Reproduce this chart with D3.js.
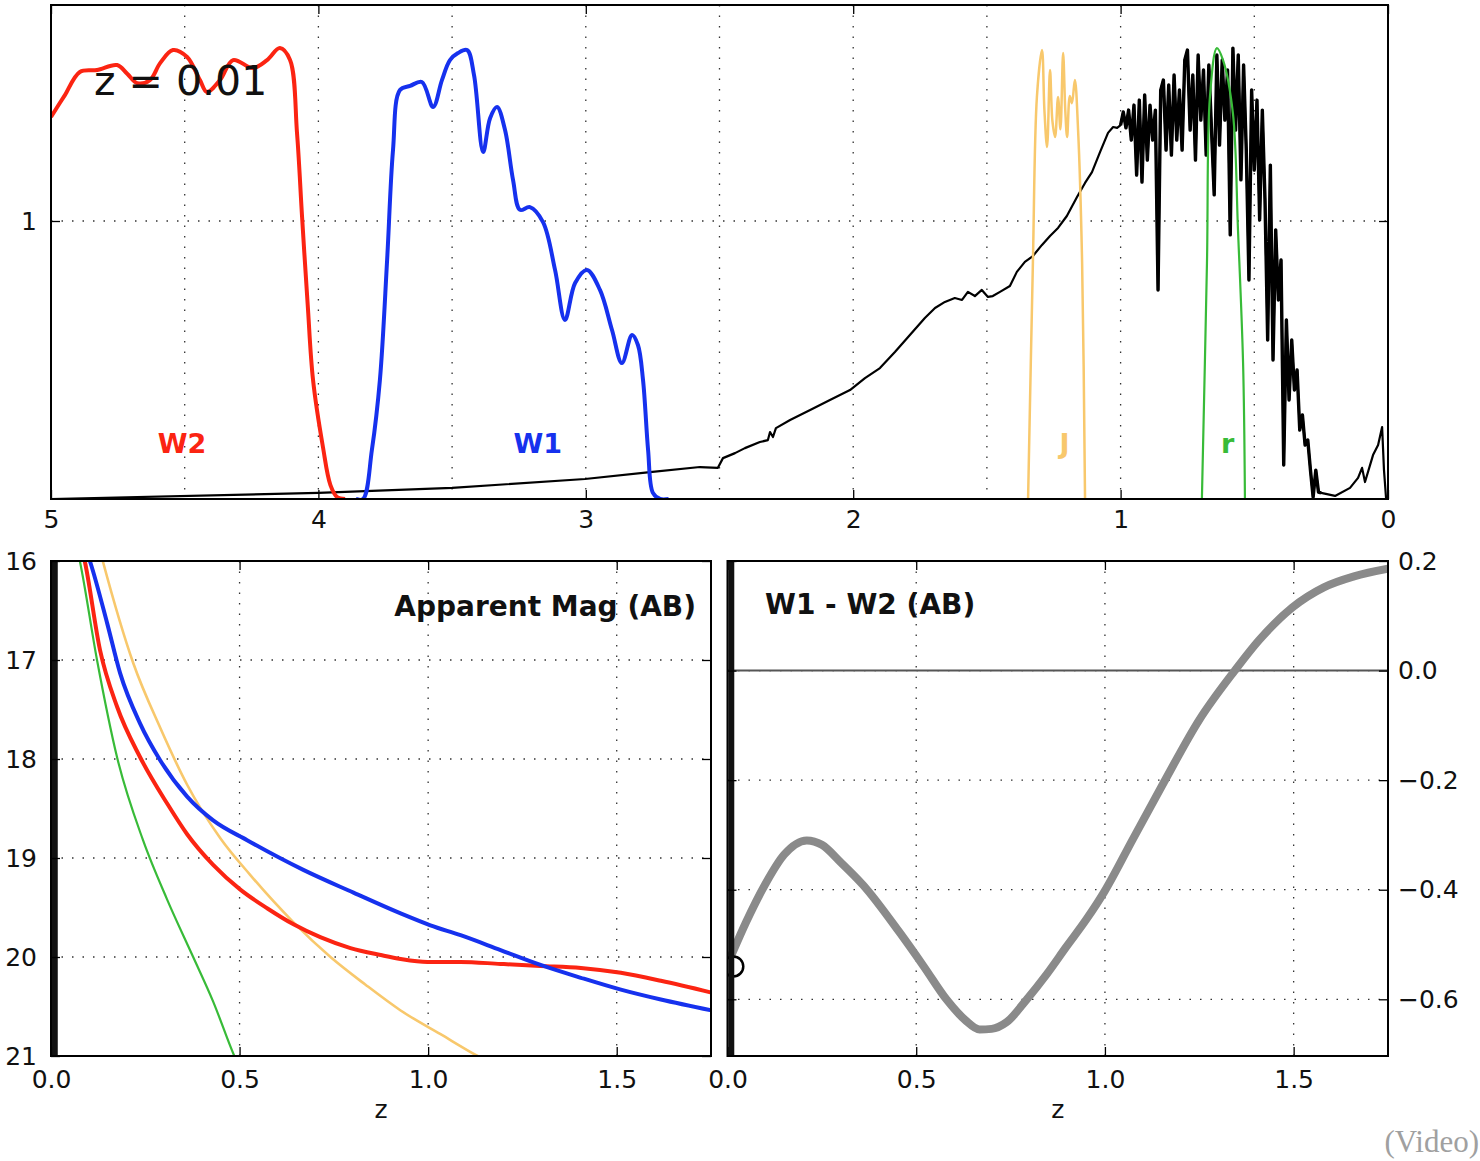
<!DOCTYPE html>
<html>
<head>
<meta charset="utf-8">
<script src="https://cdn.jsdelivr.net/npm/d3@7"></script>
<style>
body { margin: 0; background: #fff; }
svg { display: block; font-family: "DejaVu Sans", sans-serif; }
</style>
</head>
<body>
<script>
// ---- data ----
var topTicks = [5, 4, 3, 2, 1, 0]
var topGrid = [4.5, 4, 3.5, 3, 2.5, 2, 1.5, 1, 0.5]
var topYTicks = [1]
var zTicks = [0, 0.5, 1.0, 1.5]
var zGrid = [0.5, 1.0, 1.5]
var magTicks = [16, 17, 18, 19, 20, 21]
var magGrid = [17, 18, 19, 20]
var colTicks = [0.2, 0.0, -0.2, -0.4, -0.6]
var colGrid = [0.0, -0.2, -0.4, -0.6]
var currentZ = 0.01
var currentCol = -0.54

var w2Wave = [5.0, 4.97, 4.948, 4.892, 4.828, 4.753, 4.715, 4.678, 4.630, 4.592, 4.544, 4.491, 4.443, 4.417, 4.368, 4.319, 4.245, 4.192, 4.144, 4.106, 4.080, 4.061, 4.040, 4.020, 3.983, 3.955, 3.930, 3.90]
var w2Resp = [1.374, 1.42, 1.453, 1.536, 1.543, 1.561, 1.53, 1.496, 1.507, 1.568, 1.615, 1.590, 1.507, 1.464, 1.507, 1.579, 1.550, 1.579, 1.622, 1.579, 1.317, 1.014, 0.698, 0.428, 0.187, 0.05, 0.007, 0.0]

var w1Wave = [3.86, 3.833, 3.800, 3.770, 3.743, 3.721, 3.695, 3.657, 3.613, 3.571, 3.538, 3.508, 3.478, 3.444, 3.418, 3.384, 3.358, 3.332, 3.302, 3.272, 3.246, 3.209, 3.160, 3.115, 3.078, 3.040, 2.996, 2.947, 2.902, 2.865, 2.827, 2.805, 2.786, 2.767, 2.749, 2.722, 2.69]
var w1Resp = [0.0, 0.0, 0.176, 0.428, 0.860, 1.255, 1.471, 1.486, 1.500, 1.410, 1.507, 1.579, 1.604, 1.615, 1.525, 1.248, 1.370, 1.410, 1.327, 1.147, 1.040, 1.050, 0.996, 0.824, 0.644, 0.777, 0.824, 0.752, 0.608, 0.489, 0.590, 0.554, 0.428, 0.176, 0.022, 0.0, 0.0]

var jWave = [1.346, 1.328, 1.313, 1.294, 1.285, 1.275, 1.264, 1.255, 1.245, 1.234, 1.225, 1.215, 1.207, 1.200, 1.190, 1.182, 1.171, 1.159, 1.144, 1.133]
var jResp = [0.0, 0.849, 1.446, 1.615, 1.40, 1.266, 1.543, 1.36, 1.302, 1.446, 1.33, 1.604, 1.40, 1.302, 1.45, 1.424, 1.507, 1.327, 0.853, 0.0]

var rWave = [0.696, 0.677, 0.666, 0.640, 0.617, 0.580, 0.561, 0.542, 0.535]
var rResp = [0.0, 0.849, 1.446, 1.622, 1.579, 1.388, 0.968, 0.489, 0.0]

var specWave = [5.0, 4.0, 3.5, 3.003, 2.76, 2.573, 2.506, 2.487, 2.442, 2.405, 2.349, 2.319, 2.311, 2.30, 2.289, 2.236, 2.161, 2.087, 2.012, 1.956, 1.90, 1.844, 1.788, 1.732, 1.694, 1.657, 1.62, 1.593, 1.571, 1.545, 1.519, 1.496, 1.478, 1.451, 1.414, 1.388, 1.358, 1.328, 1.294, 1.264, 1.234, 1.201, 1.163, 1.133, 1.107, 1.077, 1.047, 1.028, 1.013,
  1.00, 0.99, 0.98, 0.97, 0.96, 0.95, 0.94, 0.93, 0.92, 0.91, 0.90, 0.89, 0.88, 0.87, 0.86, 0.85, 0.84, 0.83, 0.82, 0.81, 0.80, 0.79, 0.78, 0.77, 0.76, 0.75, 0.74, 0.73, 0.72, 0.71, 0.70, 0.69, 0.68, 0.67, 0.66, 0.65, 0.64, 0.63, 0.62, 0.61, 0.60, 0.59, 0.58, 0.57, 0.56, 0.55, 0.54, 0.53, 0.52, 0.51, 0.50, 0.49, 0.48, 0.47, 0.46, 0.45, 0.44, 0.43, 0.42, 0.41, 0.40, 0.39, 0.38, 0.37, 0.36, 0.35, 0.34, 0.33, 0.32, 0.31, 0.30, 0.29, 0.28, 0.27, 0.26, 0.25,
  0.198, 0.142, 0.112, 0.097, 0.086, 0.056, 0.037, 0.022, 0.015, 0.007]
var specFlux = [0, 0.022, 0.040, 0.072, 0.097, 0.115, 0.112, 0.147, 0.165, 0.183, 0.205, 0.212, 0.241, 0.223, 0.255, 0.284, 0.320, 0.356, 0.392, 0.435, 0.471, 0.529, 0.590, 0.651, 0.687, 0.709, 0.723, 0.716, 0.745, 0.730, 0.752, 0.727, 0.730, 0.745, 0.766, 0.817, 0.853, 0.874, 0.914, 0.946, 0.975, 1.018, 1.086, 1.137, 1.176, 1.248, 1.317, 1.338, 1.335,
  1.345, 1.392, 1.335, 1.399, 1.291, 1.417, 1.165, 1.435, 1.140, 1.453, 1.219, 1.417, 1.291, 1.399, 0.752, 1.471, 1.507, 1.255, 1.489, 1.237, 1.525, 1.291, 1.471, 1.255, 1.579, 1.615, 1.327, 1.525, 1.219, 1.597, 1.363, 1.543, 1.237, 1.561, 1.327, 1.094, 1.597, 1.273, 1.579, 1.363, 1.543, 0.950, 1.622, 1.327, 1.597, 1.148, 1.561, 1.255, 0.788, 1.471, 1.183, 1.435, 1.004, 1.399, 1.076, 0.572, 1.201, 0.500, 0.968, 0.716, 0.860, 0.122, 0.644, 0.356, 0.572, 0.392, 0.464, 0.248, 0.302, 0.194, 0.212, 0.104, 0.007, 0.104, 0.025, 0.022,
  0.011, 0.040, 0.076, 0.112, 0.061, 0.158, 0.194, 0.259, 0.104, 0]
// the dense, noisy part of the spectrum (drawn a bit heavier)
var noisyFrom = 1.00, noisyTo = 0.25

var magZ_w1 = [0.08, 0.104, 0.149, 0.183, 0.236, 0.289, 0.361, 0.430, 0.520, 0.669, 0.802, 0.927, 1.006, 1.086, 1.192, 1.298, 1.405, 1.511, 1.617, 1.752]
var mag_w1 = [15.75, 16.01, 16.63, 17.13, 17.64, 18.01, 18.38, 18.62, 18.82, 19.12, 19.35, 19.56, 19.68, 19.78, 19.93, 20.08, 20.21, 20.33, 20.43, 20.54]
var magZ_w2 = [0.07, 0.090, 0.130, 0.175, 0.236, 0.308, 0.361, 0.430, 0.502, 0.574, 0.643, 0.714, 0.794, 0.874, 0.927, 0.998, 1.086, 1.192, 1.298, 1.405, 1.511, 1.617, 1.752]
var mag_w2 = [15.7, 16.01, 16.90, 17.47, 17.98, 18.45, 18.76, 19.07, 19.32, 19.51, 19.67, 19.80, 19.91, 19.98, 20.02, 20.05, 20.05, 20.07, 20.09, 20.11, 20.16, 20.24, 20.36]
var magZ_j = [0.12, 0.138, 0.218, 0.289, 0.361, 0.449, 0.528, 0.643, 0.741, 0.834, 0.927, 1.033, 1.131, 1.16]
var mag_j = [15.75, 16.01, 17.03, 17.68, 18.26, 18.80, 19.17, 19.65, 20.00, 20.28, 20.54, 20.78, 21.0, 21.06]
var magZ_r = [0.065, 0.077, 0.122, 0.175, 0.244, 0.308, 0.377, 0.430, 0.486, 0.50]
var mag_r = [15.8, 16.01, 17.00, 17.98, 18.82, 19.42, 20.0, 20.45, 21.0, 21.12]

var colZ = [0.01, 0.05, 0.10, 0.15, 0.21, 0.25, 0.30, 0.36, 0.456, 0.52, 0.581, 0.63, 0.668, 0.70, 0.739, 0.792, 0.845, 0.898, 0.95, 0.999, 1.073, 1.157, 1.250, 1.343, 1.409, 1.496, 1.58, 1.66, 1.75]
var colW1W2 = [-0.52, -0.458, -0.39, -0.336, -0.310, -0.318, -0.350, -0.392, -0.478, -0.54, -0.601, -0.638, -0.655, -0.654, -0.642, -0.601, -0.555, -0.504, -0.455, -0.403, -0.309, -0.203, -0.09, -0.001, 0.056, 0.115, 0.152, 0.172, 0.186]

var red = "#fb2412", blue = "#1631ee", orange = "#f8c86c", green = "#38bb38", grey = "#8a8a8a"

// ---- page ----
var svg = d3.select("body").append("svg")
.attr("width", 1480)
.attr("height", 1161)

var xTop = d3.scaleLinear().domain([5, 0]).range([51, 1388])
var yTop = d3.scaleLinear().domain([0, 1.777]).range([499, 5])
var xMag = d3.scaleLinear().domain([0, 1.75]).range([51, 711])
var yMag = d3.scaleLinear().domain([16, 21]).range([561, 1056])
var xCol = d3.scaleLinear().domain([0, 1.75]).range([727.5, 1388])
var yCol = d3.scaleLinear().domain([-0.7035, 0.2]).range([1056, 561])

function zip(a, b) { return a.map(function(d, i) { return [d, b[i]] }) }
function lo(s) { return d3.min(s.range()) }
function hi(s) { return d3.max(s.range()) }

function clip(id, x, y) {
    svg.append("clipPath").attr("id", id)
    .append("rect")
    .attr("x", lo(x)).attr("y", lo(y))
    .attr("width", hi(x) - lo(x))
    .attr("height", hi(y) - lo(y))
}

function grid(x, y, xs, ys) {
    var g = svg.append("g")
    g.selectAll(null).data(xs).enter().append("line")
    .attr("x1", function(d) { return x(d) }).attr("x2", function(d) { return x(d) })
    .attr("y1", lo(y)).attr("y2", hi(y))
    g.selectAll(null).data(ys).enter().append("line")
    .attr("y1", function(d) { return y(d) }).attr("y2", function(d) { return y(d) })
    .attr("x1", lo(x)).attr("x2", hi(x))
    g.selectAll("line")
    .attr("stroke", "#333")
    .attr("stroke-width", 1.3)
    .style("stroke-dasharray", "1.5, 9")
}

function frame(x, y) {
    svg.append("rect")
    .attr("x", lo(x)).attr("y", lo(y))
    .attr("width", hi(x) - lo(x))
    .attr("height", hi(y) - lo(y))
    .attr("fill", "none")
    .attr("stroke", "#000")
    .attr("stroke-width", 2)
}

function styleAxis(g) {
    g.select(".domain").remove()
    g.selectAll("line").attr("stroke", "#000").attr("stroke-width", 1.3)
    g.selectAll("text")
    .attr("fill", "#111")
    .style("font-family", "'DejaVu Sans', sans-serif")
    .style("font-size", "25px")
}

function axes(x, y, xt, yt, yRightLabels, xFmt, yFmt, pad) {
    svg.append("g").attr("transform", "translate(0," + hi(y) + ")")
    .call(d3.axisBottom(x).tickValues(xt).tickSize(-9).tickPadding(pad).tickFormat(xFmt))
    .call(styleAxis)
    svg.append("g").attr("transform", "translate(0," + lo(y) + ")")
    .call(d3.axisTop(x).tickValues(xt).tickSize(-9).tickFormat(""))
    .call(styleAxis)
    svg.append("g").attr("transform", "translate(" + lo(x) + ",0)")
    .call(d3.axisLeft(y).tickValues(yt).tickSize(-9).tickPadding(yRightLabels ? 0 : 14).tickFormat(yRightLabels ? "" : yFmt))
    .call(styleAxis)
    svg.append("g").attr("transform", "translate(" + hi(x) + ",0)")
    .call(d3.axisRight(y).tickValues(yt).tickSize(-9).tickPadding(10).tickFormat(yRightLabels ? yFmt : ""))
    .call(styleAxis)
}

// ---- top panel: spectrum and filter curves ----
clip("clipTop", xTop, yTop)
grid(xTop, yTop, topGrid, topYTicks)

var topLine = d3.line()
.x(function(d) { return xTop(d[0]) })
.y(function(d) { return yTop(d[1]) })

var topSmooth = d3.line()
.x(function(d) { return xTop(d[0]) })
.y(function(d) { return yTop(d[1]) })
.curve(d3.curveCatmullRom.alpha(0.5))

var topG = svg.append("g").attr("clip-path", "url(#clipTop)")

var spec = zip(specWave, specFlux)
topG.append("path")
.attr("d", topLine(spec))
.attr("fill", "none")
.attr("stroke", "#000")
.attr("stroke-width", 2.2)
.attr("stroke-linejoin", "round")

topG.append("path")
.attr("d", topLine(spec.filter(function(d) { return d[0] <= noisyFrom && d[0] >= noisyTo })))
.attr("fill", "none")
.attr("stroke", "#000")
.attr("stroke-width", 3.4)
.attr("stroke-linejoin", "round")

var filters = [
    { wave: w2Wave, resp: w2Resp, color: red, w: 4 },
    { wave: w1Wave, resp: w1Resp, color: blue, w: 4 },
    { wave: jWave, resp: jResp, color: orange, w: 2.5 },
    { wave: rWave, resp: rResp, color: green, w: 2.2 }
]
topG.selectAll(null).data(filters).enter().append("path")
.attr("d", function(d) { return topSmooth(zip(d.wave, d.resp)) })
.attr("fill", "none")
.attr("stroke", function(d) { return d.color })
.attr("stroke-width", function(d) { return d.w })
.attr("stroke-linejoin", "round")

frame(xTop, yTop)
axes(xTop, yTop, topTicks, topYTicks, false, d3.format("d"), d3.format("d"), 11)

var bandLabels = [
    { name: "W2", wave: 4.51, color: red },
    { name: "W1", wave: 3.18, color: blue },
    { name: "J", wave: 1.21, color: orange },
    { name: "r", wave: 0.60, color: green }
]
svg.append("g").selectAll(null).data(bandLabels).enter().append("text")
.attr("x", function(d) { return xTop(d.wave) })
.attr("y", 453)
.attr("text-anchor", "middle")
.attr("fill", function(d) { return d.color })
.style("font-size", "27px")
.style("font-weight", "bold")
.text(function(d) { return d.name })

svg.append("text")
.attr("x", 94)
.attr("y", 95)
.style("font-size", "41px")
.attr("fill", "#111")
.text("z = " + currentZ.toFixed(2))

// ---- bottom left: apparent magnitudes ----
clip("clipMag", xMag, yMag)
grid(xMag, yMag, zGrid, magGrid)

var magLine = d3.line()
.x(function(d) { return xMag(d[0]) })
.y(function(d) { return yMag(d[1]) })
.curve(d3.curveMonotoneX)

var mags = [
    { z: magZ_j, m: mag_j, color: orange, w: 2.6 },
    { z: magZ_r, m: mag_r, color: green, w: 2.2 },
    { z: magZ_w2, m: mag_w2, color: red, w: 4 },
    { z: magZ_w1, m: mag_w1, color: blue, w: 4 }
]
var magG = svg.append("g").attr("clip-path", "url(#clipMag)")
magG.selectAll(null).data(mags).enter().append("path")
.attr("d", function(d) { return magLine(zip(d.z, d.m)) })
.attr("fill", "none")
.attr("stroke", function(d) { return d.color })
.attr("stroke-width", function(d) { return d.w })

magG.append("line")
.attr("x1", xMag(currentZ)).attr("x2", xMag(currentZ))
.attr("y1", lo(yMag)).attr("y2", hi(yMag))
.attr("stroke", "#111")
.attr("stroke-width", 6)

frame(xMag, yMag)
axes(xMag, yMag, zTicks, magTicks, false, d3.format(".1f"), d3.format("d"), 14)

svg.append("text")
.attr("x", 696)
.attr("y", 616)
.attr("text-anchor", "end")
.style("font-size", "28px")
.style("font-weight", "bold")
.attr("fill", "#111")
.text("Apparent Mag (AB)")

svg.append("text")
.attr("x", (lo(xMag) + hi(xMag)) / 2)
.attr("y", 1118)
.attr("text-anchor", "middle")
.style("font-size", "25px")
.attr("fill", "#111")
.text("z")

// ---- bottom right: W1 - W2 colour ----
clip("clipCol", xCol, yCol)
grid(xCol, yCol, zGrid, colGrid)

var colLine = d3.line()
.x(function(d) { return xCol(d[0]) })
.y(function(d) { return yCol(d[1]) })
.curve(d3.curveMonotoneX)

var colG = svg.append("g").attr("clip-path", "url(#clipCol)")

colG.append("line")
.attr("x1", lo(xCol)).attr("x2", hi(xCol))
.attr("y1", yCol(0)).attr("y2", yCol(0))
.attr("stroke", "#555")
.attr("stroke-width", 2)

colG.append("path")
.attr("d", colLine(zip(colZ, colW1W2)))
.attr("fill", "none")
.attr("stroke", grey)
.attr("stroke-width", 8)
.attr("stroke-linecap", "round")

colG.append("circle")
.attr("cx", xCol(currentZ) + 2)
.attr("cy", yCol(currentCol))
.attr("r", 10)
.attr("fill", "#fff")
.attr("stroke", "#000")
.attr("stroke-width", 2.5)

colG.append("line")
.attr("x1", xCol(currentZ)).attr("x2", xCol(currentZ))
.attr("y1", lo(yCol)).attr("y2", hi(yCol))
.attr("stroke", "#111")
.attr("stroke-width", 6)

frame(xCol, yCol)
axes(xCol, yCol, zTicks, colTicks, true, d3.format(".1f"), d3.format(".1f"), 14)

svg.append("text")
.attr("x", 765)
.attr("y", 614)
.style("font-size", "28px")
.style("font-weight", "bold")
.attr("fill", "#111")
.text("W1 - W2 (AB)")

svg.append("text")
.attr("x", (lo(xCol) + hi(xCol)) / 2)
.attr("y", 1118)
.attr("text-anchor", "middle")
.style("font-size", "25px")
.attr("fill", "#111")
.text("z")

svg.append("text")
.attr("x", 1479)
.attr("y", 1152)
.attr("text-anchor", "end")
.style("font-family", "'Liberation Serif', serif")
.style("font-size", "31px")
.attr("fill", "#a0a0a0")
.text("(Video)")
</script>
</body>
</html>
